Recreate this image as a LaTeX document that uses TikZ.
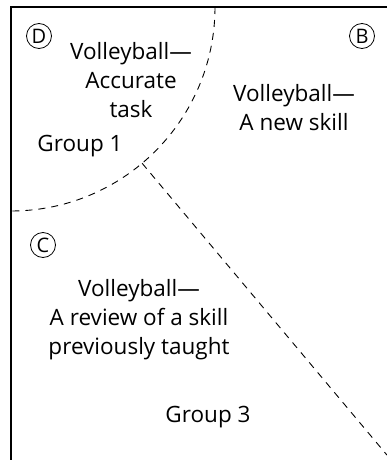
\documentclass[tikz,border=0pt]{standalone}
\usepackage{fontspec}
\setmainfont{Open Sans}
\usepackage{tikz}
\usetikzlibrary{positioning}

\begin{document}
\begin{tikzpicture}[
          x=1pt, y=-1pt,
          every node/.style={font=\fontsize{22.5}{29}\selectfont, align=center, inner sep=0pt},
          zonemark/.style={circle, draw, line width=0.8pt, minimum size=25pt, font=\fontsize{20}{20}\selectfont},
          courtedge/.style={line width=1.3pt},
          boundary/.style={line width=0.9pt, dash pattern=on 7pt off 6pt}
        ]
          \useasboundingbox (0,0) rectangle (387,460);
          \coordinate (corner) at (11,7);
          \coordinate (junction) at ([shift={(50:204)}]corner);
          \coordinate (far) at ([shift={(50:585)}]corner);
          % court lines
          \draw[courtedge] (387,7) -- (corner) -- (11,460);
          \draw[boundary] ([shift={(0:204)}]corner) arc[start angle=0, end angle=90, radius=204];
          \draw[boundary] (junction) -- (far);
          % zones
          \node[zonemark] (markD) at (39,36) {D};
          \node[zonemark] (markB) at (362,36) {B};
          \node[zonemark] (markC) at (43,245) {C};
          \node (taskD) at (131,80) {Volleyball---\\Accurate\\task};
          \node (group1) at (80,146) {Group 1};
          \node (taskB) at (294,108) {Volleyball---\\A new skill};
          \node (taskC) at (139,320) {Volleyball---\\A review of a skill\\previously taught};
          \node (group3) at (208,417) {Group 3};
        \end{tikzpicture}
\end{document}
